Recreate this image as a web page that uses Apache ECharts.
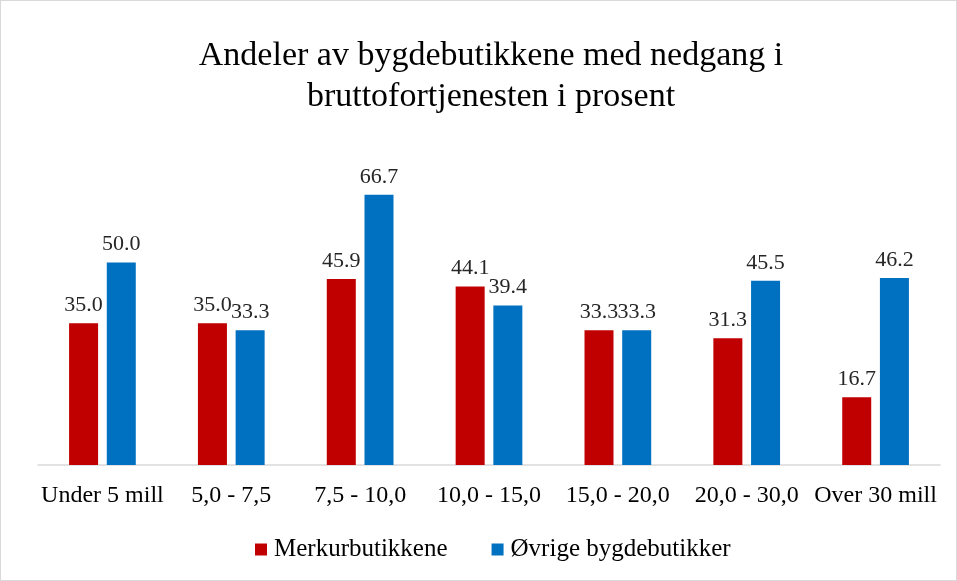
<!DOCTYPE html>
<html>
<head>
<meta charset="utf-8">
<script src="https://cdn.jsdelivr.net/npm/echarts@6/dist/echarts.min.js"></script>
<style>
  html, body { margin: 0; padding: 0; background: #fff; }
  #chart { width: 955px; height: 579px; border: 1px solid #d9d9d9; }
</style>
</head>
<body>
<div id="chart"></div>
<script>
const categories = ["Under 5 mill", "5,0 - 7,5", "7,5 - 10,0", "10,0 - 15,0", "15,0 - 20,0", "20,0 - 30,0", "Over 30 mill"];
const merkur = [35.0, 35.0, 45.9, 44.1, 33.3, 31.3, 16.7];
const ovrige = [50.0, 33.3, 66.7, 39.4, 33.3, 45.5, 46.2];

const font = "'Liberation Serif', 'DejaVu Serif', serif";
const chart = echarts.init(document.getElementById("chart"));

const labelStyle = {
  show: true,
  position: "top",
  distance: 7,
  fontFamily: font,
  fontSize: 22,
  color: "#262626",
  formatter: p => p.value.toFixed(1)
};

chart.setOption({
  animation: false,
  title: {
    text: "Andeler av bygdebutikkene med nedgang i\nbruttofortjenesten i prosent",
    left: 485,
    textAlign: "center",
    top: 30,
    textStyle: { fontFamily: font, fontSize: 34, fontWeight: "normal", color: "#000", lineHeight: 41 }
  },
  legend: {
    top: 536,
    left: 254,
    padding: 0,
    itemWidth: 12,
    itemHeight: 12,
    itemGap: 44,
    icon: "rect",
    textStyle: { fontFamily: font, fontSize: 25, color: "#000", padding: [0, 0, 0, 2] },
    data: ["Merkurbutikkene", "Øvrige bygdebutikker"]
  },
  grid: { left: 37, right: 16, top: 140, bottom: 115, containLabel: false },
  xAxis: {
    type: "category",
    data: categories,
    axisLine: { lineStyle: { color: "#d9d9d9", width: 1.5 } },
    axisTick: { show: false },
    axisLabel: { fontFamily: font, fontSize: 24, color: "#000", margin: 19, interval: 0 }
  },
  yAxis: {
    type: "value",
    min: 0,
    max: 80,
    interval: 10,
    show: false,
    splitLine: { show: false }
  },
  series: [
    {
      name: "Merkurbutikkene",
      type: "bar",
      data: merkur,
      barWidth: 29,
      barGap: "30%",
      itemStyle: { color: "#c00000" },
      label: labelStyle
    },
    {
      name: "Øvrige bygdebutikker",
      type: "bar",
      data: ovrige,
      barWidth: 29,
      itemStyle: { color: "#0070c0" },
      label: labelStyle
    }
  ]
});
</script>
</body>
</html>
